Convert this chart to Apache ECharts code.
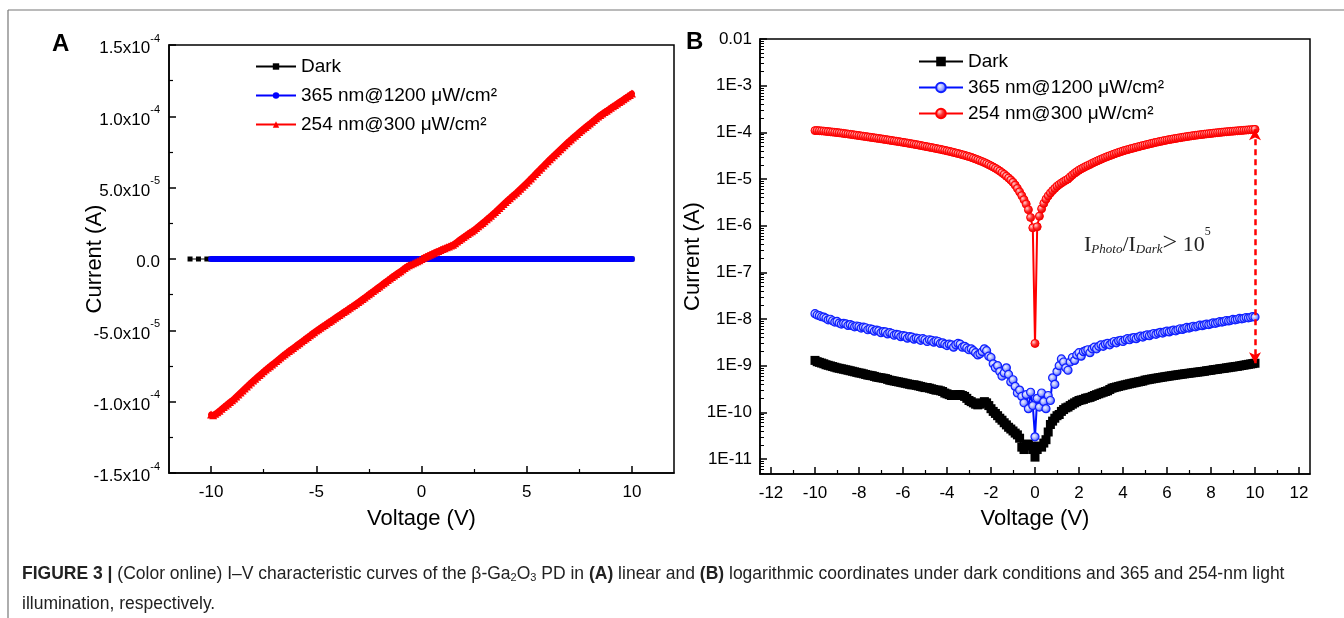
<!DOCTYPE html>
<html><head><meta charset="utf-8">
<script src="https://cdn.jsdelivr.net/npm/echarts@6/dist/echarts.min.js"></script>
<style>html,body{margin:0;padding:0;background:#fff}#c{width:1344px;height:618px}</style>
</head><body><div id="c"></div>
<script>
// ---------- data ----------
const V = [
-10,-9.9,-9.8,-9.7,-9.6,-9.5,-9.4,-9.3,-9.2,-9.1,
-9,-8.9,-8.8,-8.7,-8.6,-8.5,-8.4,-8.3,-8.2,-8.1,
-8,-7.9,-7.8,-7.7,-7.6,-7.5,-7.4,-7.3,-7.2,-7.1,
-7,-6.9,-6.8,-6.7,-6.6,-6.5,-6.4,-6.3,-6.2,-6.1,
-6,-5.9,-5.8,-5.7,-5.6,-5.5,-5.4,-5.3,-5.2,-5.1,
-5,-4.9,-4.8,-4.7,-4.6,-4.5,-4.4,-4.3,-4.2,-4.1,
-4,-3.9,-3.8,-3.7,-3.6,-3.5,-3.4,-3.3,-3.2,-3.1,
-3,-2.9,-2.8,-2.7,-2.6,-2.5,-2.4,-2.3,-2.2,-2.1,
-2,-1.9,-1.8,-1.7,-1.6,-1.5,-1.4,-1.3,-1.2,-1.1,
-1,-0.9,-0.8,-0.7,-0.6,-0.5,-0.4,-0.3,-0.2,-0.1,
0,
0.1,0.2,0.3,0.4,0.5,0.6,0.7,0.8,0.9,1,
1.1,1.2,1.3,1.4,1.5,1.6,1.7,1.8,1.9,2,
2.1,2.2,2.3,2.4,2.5,2.6,2.7,2.8,2.9,3,
3.1,3.2,3.3,3.4,3.5,3.6,3.7,3.8,3.9,4,
4.1,4.2,4.3,4.4,4.5,4.6,4.7,4.8,4.9,5,
5.1,5.2,5.3,5.4,5.5,5.6,5.7,5.8,5.9,6,
6.1,6.2,6.3,6.4,6.5,6.6,6.7,6.8,6.9,7,
7.1,7.2,7.3,7.4,7.5,7.6,7.7,7.8,7.9,8,
8.1,8.2,8.3,8.4,8.5,8.6,8.7,8.8,8.9,9,
9.1,9.2,9.3,9.4,9.5,9.6,9.7,9.8,9.9,10];

const photo254 = [
-1.090e-4,-1.095e-4,-1.085e-4,-1.075e-4,-1.063e-4,-1.050e-4,-1.038e-4,-1.026e-4,-1.014e-4,-1.002e-4,
-9.90e-5,-9.78e-5,-9.64e-5,-9.50e-5,-9.36e-5,-9.22e-5,-9.08e-5,-8.94e-5,-8.80e-5,-8.66e-5,
-8.52e-5,-8.39e-5,-8.26e-5,-8.13e-5,-8.00e-5,-7.87e-5,-7.75e-5,-7.63e-5,-7.51e-5,-7.39e-5,
-7.27e-5,-7.15e-5,-7.03e-5,-6.91e-5,-6.79e-5,-6.67e-5,-6.56e-5,-6.45e-5,-6.34e-5,-6.23e-5,
-6.12e-5,-6.01e-5,-5.90e-5,-5.79e-5,-5.68e-5,-5.57e-5,-5.46e-5,-5.35e-5,-5.24e-5,-5.13e-5,
-5.02e-5,-4.92e-5,-4.82e-5,-4.72e-5,-4.62e-5,-4.52e-5,-4.42e-5,-4.32e-5,-4.22e-5,-4.12e-5,
-4.02e-5,-3.92e-5,-3.82e-5,-3.72e-5,-3.62e-5,-3.52e-5,-3.42e-5,-3.32e-5,-3.22e-5,-3.12e-5,
-3.02e-5,-2.91e-5,-2.80e-5,-2.69e-5,-2.58e-5,-2.47e-5,-2.36e-5,-2.25e-5,-2.14e-5,-2.03e-5,
-1.92e-5,-1.81e-5,-1.70e-5,-1.59e-5,-1.48e-5,-1.37e-5,-1.26e-5,-1.15e-5,-1.05e-5,-9.50e-6,
-8.50e-6,-7.40e-6,-6.30e-6,-5.30e-6,-4.40e-6,-3.60e-6,-2.90e-6,-2.20e-6,-1.50e-6,-9.00e-7,
3.0e-9,
9.5e-7,1.6e-6,2.3e-6,3.0e-6,3.7e-6,4.35e-6,5.0e-6,5.65e-6,6.3e-6,7.0e-6,
7.6e-6,8.2e-6,8.8e-6,9.4e-6,1.00e-5,1.11e-5,1.22e-5,1.33e-5,1.44e-5,1.55e-5,
1.65e-5,1.75e-5,1.85e-5,1.95e-5,2.05e-5,2.17e-5,2.29e-5,2.41e-5,2.53e-5,2.65e-5,
2.78e-5,2.91e-5,3.04e-5,3.17e-5,3.30e-5,3.44e-5,3.58e-5,3.72e-5,3.86e-5,4.00e-5,
4.13e-5,4.26e-5,4.39e-5,4.52e-5,4.65e-5,4.79e-5,4.93e-5,5.07e-5,5.21e-5,5.35e-5,
5.50e-5,5.65e-5,5.80e-5,5.95e-5,6.10e-5,6.25e-5,6.40e-5,6.55e-5,6.70e-5,6.85e-5,
6.99e-5,7.13e-5,7.27e-5,7.41e-5,7.55e-5,7.69e-5,7.83e-5,7.97e-5,8.11e-5,8.25e-5,
8.38e-5,8.51e-5,8.64e-5,8.77e-5,8.90e-5,9.02e-5,9.14e-5,9.26e-5,9.38e-5,9.50e-5,
9.62e-5,9.74e-5,9.86e-5,9.98e-5,1.010e-4,1.020e-4,1.030e-4,1.040e-4,1.050e-4,1.060e-4,
1.070e-4,1.080e-4,1.090e-4,1.100e-4,1.110e-4,1.120e-4,1.130e-4,1.140e-4,1.150e-4,1.160e-4];

const photo365 = [
-1.30e-8,-1.22e-8,-1.18e-8,-1.12e-8,-1.10e-8,-1.04e-8,-9.6e-9,-9.9e-9,-9.2e-9,-8.6e-9,
-8.9e-9,-8.2e-9,-7.8e-9,-8.1e-9,-7.9e-9,-7.3e-9,-7.6e-9,-7.2e-9,-6.8e-9,-7.1e-9,
-6.9e-9,-6.4e-9,-6.7e-9,-6.5e-9,-5.9e-9,-6.2e-9,-6.0e-9,-5.5e-9,-5.8e-9,-5.6e-9,
-5.1e-9,-5.4e-9,-5.3e-9,-4.8e-9,-5.1e-9,-4.9e-9,-4.5e-9,-4.7e-9,-4.6e-9,-4.2e-9,
-4.4e-9,-4.3e-9,-3.9e-9,-4.2e-9,-4.1e-9,-3.7e-9,-3.9e-9,-3.8e-9,-3.5e-9,-3.8e-9,
-3.6e-9,-3.3e-9,-3.6e-9,-3.5e-9,-3.2e-9,-3.4e-9,-3.3e-9,-3.0e-9,-3.1e-9,-2.9e-9,
-2.7e-9,-2.9e-9,-2.8e-9,-2.5e-9,-2.8e-9,-3.0e-9,-2.9e-9,-2.5e-9,-2.6e-9,-2.4e-9,
-2.2e-9,-2.3e-9,-2.1e-9,-1.9e-9,-1.7e-9,-1.8e-9,-2.0e-9,-2.3e-9,-2.1e-9,-1.6e-9,
-1.5e-9,-1.1e-9,-9.0e-10,-1.0e-9,-7.5e-10,-6.0e-10,-7.0e-10,-9.0e-10,-6.5e-10,-4.5e-10,
-5.0e-10,-3.6e-10,-2.6e-10,-3.0e-10,-2.2e-10,-1.6e-10,-2.4e-10,-1.2e-10,-2.7e-10,-1.4e-10,
3.0e-11,
2.0e-10,1.3e-10,2.6e-10,1.7e-10,1.2e-10,2.3e-10,1.8e-10,5.5e-10,4.0e-10,7.5e-10,
1.0e-9,1.4e-9,1.2e-9,9.0e-10,8.0e-10,1.2e-9,1.5e-9,1.3e-9,1.7e-9,1.9e-9,
1.6e-9,2.0e-9,2.1e-9,2.2e-9,1.9e-9,2.3e-9,2.5e-9,2.3e-9,2.6e-9,2.8e-9,
2.6e-9,2.9e-9,3.0e-9,2.8e-9,3.1e-9,3.3e-9,3.1e-9,3.4e-9,3.5e-9,3.3e-9,
3.6e-9,3.8e-9,3.6e-9,3.9e-9,4.0e-9,3.8e-9,4.1e-9,4.3e-9,4.1e-9,4.4e-9,
4.6e-9,4.4e-9,4.7e-9,4.9e-9,4.7e-9,5.0e-9,5.2e-9,5.0e-9,5.3e-9,5.5e-9,
5.3e-9,5.6e-9,5.8e-9,5.6e-9,5.9e-9,6.2e-9,6.0e-9,6.3e-9,6.6e-9,6.4e-9,
6.7e-9,7.0e-9,6.8e-9,7.1e-9,7.4e-9,7.2e-9,7.5e-9,7.8e-9,7.6e-9,7.9e-9,
8.3e-9,8.1e-9,8.4e-9,8.8e-9,8.6e-9,8.9e-9,9.3e-9,9.1e-9,9.4e-9,9.8e-9,
9.6e-9,9.9e-9,1.03e-8,1.01e-8,1.04e-8,1.08e-8,1.06e-8,1.09e-8,1.13e-8,1.10e-8];

const dark = [
-1.30e-9,-1.22e-9,-1.18e-9,-1.14e-9,-1.10e-9,-1.05e-9,-1.02e-9,-9.9e-10,-9.6e-10,-9.3e-10,
-9.0e-10,-8.8e-10,-8.6e-10,-8.4e-10,-8.2e-10,-8.0e-10,-7.8e-10,-7.6e-10,-7.4e-10,-7.2e-10,
-7.0e-10,-6.9e-10,-6.7e-10,-6.5e-10,-6.3e-10,-6.2e-10,-6.1e-10,-5.9e-10,-5.7e-10,-5.6e-10,
-5.5e-10,-5.4e-10,-5.3e-10,-5.1e-10,-4.9e-10,-4.8e-10,-4.7e-10,-4.6e-10,-4.5e-10,-4.4e-10,
-4.3e-10,-4.2e-10,-4.1e-10,-4.0e-10,-3.9e-10,-3.9e-10,-3.8e-10,-3.7e-10,-3.6e-10,-3.5e-10,
-3.4e-10,-3.4e-10,-3.3e-10,-3.2e-10,-3.1e-10,-3.0e-10,-3.0e-10,-2.9e-10,-2.8e-10,-2.6e-10,
-2.5e-10,-2.4e-10,-2.3e-10,-2.3e-10,-2.4e-10,-2.4e-10,-2.4e-10,-2.3e-10,-2.2e-10,-2.0e-10,
-1.8e-10,-1.7e-10,-1.6e-10,-1.5e-10,-1.45e-10,-1.5e-10,-1.6e-10,-1.7e-10,-1.6e-10,-1.4e-10,
-1.2e-10,-1.05e-10,-9.5e-11,-8.5e-11,-7.5e-11,-6.8e-11,-6.0e-11,-5.4e-11,-4.8e-11,-4.4e-11,
-4.0e-11,-3.6e-11,-3.3e-11,-2.8e-11,-1.8e-11,-1.6e-11,-2.0e-11,-2.1e-11,-1.9e-11,-1.6e-11,
1.1e-11,
1.6e-11,1.9e-11,1.8e-11,2.2e-11,2.6e-11,3.8e-11,5.5e-11,6.5e-11,7.5e-11,8.5e-11,
9.0e-11,1.05e-10,1.15e-10,1.25e-10,1.3e-10,1.4e-10,1.5e-10,1.6e-10,1.7e-10,1.8e-10,
1.85e-10,1.9e-10,2.0e-10,2.05e-10,2.1e-10,2.2e-10,2.3e-10,2.4e-10,2.5e-10,2.6e-10,
2.7e-10,2.8e-10,2.9e-10,3.1e-10,3.3e-10,3.4e-10,3.5e-10,3.6e-10,3.7e-10,3.8e-10,
3.9e-10,4.0e-10,4.1e-10,4.2e-10,4.3e-10,4.4e-10,4.5e-10,4.6e-10,4.7e-10,4.9e-10,
5.0e-10,5.1e-10,5.2e-10,5.3e-10,5.4e-10,5.5e-10,5.6e-10,5.7e-10,5.8e-10,5.9e-10,
6.0e-10,6.1e-10,6.2e-10,6.3e-10,6.4e-10,6.5e-10,6.6e-10,6.7e-10,6.8e-10,6.9e-10,
7.0e-10,7.1e-10,7.2e-10,7.3e-10,7.4e-10,7.5e-10,7.6e-10,7.8e-10,7.9e-10,8.0e-10,
8.2e-10,8.3e-10,8.4e-10,8.6e-10,8.7e-10,8.8e-10,9.0e-10,9.1e-10,9.3e-10,9.4e-10,
9.6e-10,9.7e-10,9.9e-10,1.01e-9,1.03e-9,1.05e-9,1.07e-9,1.09e-9,1.11e-9,1.13e-9];

// dark sweep in panel A starts a little before -10 V
const darkLeadV = [-11.0, -10.6, -10.2];
const darkLeadI = [-1.45e-9, -1.40e-9, -1.35e-9];

const seriesNames = ['Dark', '365 nm@1200 μW/cm²', '254 nm@300 μW/cm²'];

const xTicksA = [-10, -5, 0, 5, 10];
const xMinorA = [-7.5, -2.5, 2.5, 7.5];
const yTicksA = [1.5e-4, 1e-4, 5e-5, 0, -5e-5, -1e-4, -1.5e-4];
const yLabelsA = ['1.5x10^-4', '1.0x10^-4', '5.0x10^-5', '0.0', '-5.0x10^-5', '-1.0x10^-4', '-1.5x10^-4'];

const xTicksB = [-12, -10, -8, -6, -4, -2, 0, 2, 4, 6, 8, 10, 12];
const xMinorB = [-11, -9, -7, -5, -3, -1, 1, 3, 5, 7, 9, 11];
const yTicksB = [1e-2, 1e-3, 1e-4, 1e-5, 1e-6, 1e-7, 1e-8, 1e-9, 1e-10, 1e-11];
const yLabelsB = ['0.01', '1E-3', '1E-4', '1E-5', '1E-6', '1E-7', '1E-8', '1E-9', '1E-10', '1E-11'];
const minorMult = [2, 3, 4, 5, 6, 7, 8, 9];

// ---------- build ----------
const FONT = 'Liberation Sans, Arial, sans-serif';
const SERIF = 'Liberation Serif, serif';
const zip = (xs, ys) => xs.map((x, i) => [x, ys[i]]);
const zipAbs = (xs, ys) => xs.map((x, i) => [x, Math.abs(ys[i])]);
const yMinorB = [];
yTicksB.forEach(t => minorMult.forEach(m => { const v = t * m / 10; if (v < 1e-2) yMinorB.push(v); }));
yMinorB.push(6e-12, 7e-12, 8e-12, 9e-12);

const chart = echarts.init(document.getElementById('c'), null, { renderer: 'canvas' });

function labelA(v) {
  const i = yTicksA.findIndex(t => Math.abs(t - v) < 1e-9);
  if (i < 0) return '';
  const parts = yLabelsA[i].split('^');
  return parts.length > 1 ? '{m|' + parts[0] + '}{e|' + parts[1] + '}' : '{m|' + parts[0] + '}';
}
function labelB(v) {
  const i = yTicksB.findIndex(t => Math.abs(Math.log10(t) - Math.log10(v)) < 0.01);
  return i < 0 ? '' : yLabelsB[i];
}

const axisLineStyle = { onZero: false, lineStyle: { color: '#000', width: 1.5 } };
const tickLabel = { color: '#000', fontSize: 17, fontFamily: FONT };
const nameStyle = { color: '#000', fontSize: 22, fontFamily: FONT };

const redBall = new echarts.graphic.RadialGradient(0.35, 0.35, 0.65, [
  { offset: 0, color: '#ffd0d0' }, { offset: 0.5, color: '#ff3030' }, { offset: 1, color: '#e00000' }]);
const blueBall = new echarts.graphic.RadialGradient(0.4, 0.4, 0.6, [
  { offset: 0, color: '#f0f2ff' }, { offset: 0.55, color: '#9aa6ff' }, { offset: 1, color: '#1a2cff' }]);

const option = {
  animation: false,
  backgroundColor: '#fff',
  grid: [
    { left: 169, top: 45, width: 505, height: 428, show: true, borderColor: '#000', borderWidth: 1.5, backgroundColor: 'transparent' },
    { left: 760, top: 39, width: 550, height: 435, show: true, borderColor: '#000', borderWidth: 1.5, backgroundColor: 'transparent' }
  ],
  xAxis: [
    { gridIndex: 0, type: 'value', min: -12, max: 12, position: 'bottom',
      axisLine: axisLineStyle, splitLine: { show: false },
      axisTick: { inside: true, length: 7, lineStyle: { color: '#000', width: 1.5 }, customValues: xTicksA },
      axisLabel: Object.assign({ margin: 11, customValues: xTicksA }, tickLabel),
      name: 'Voltage (V)', nameLocation: 'middle', nameGap: 35, nameMoveOverlap: false, nameTextStyle: nameStyle },
    { gridIndex: 0, type: 'value', min: -12, max: 12, position: 'bottom',
      axisLine: { show: false, onZero: false }, splitLine: { show: false },
      axisTick: { inside: true, length: 4, lineStyle: { color: '#000', width: 1.2 }, customValues: xMinorA },
      axisLabel: { show: false } },
    { gridIndex: 1, type: 'value', min: -12.5, max: 12.5, position: 'bottom',
      axisLine: axisLineStyle, splitLine: { show: false },
      axisTick: { inside: true, length: 7, lineStyle: { color: '#000', width: 1.5 }, customValues: xTicksB },
      axisLabel: Object.assign({ margin: 11, customValues: xTicksB }, tickLabel),
      name: 'Voltage (V)', nameLocation: 'middle', nameGap: 34, nameMoveOverlap: false, nameTextStyle: nameStyle },
    { gridIndex: 1, type: 'value', min: -12.5, max: 12.5, position: 'bottom',
      axisLine: { show: false, onZero: false }, splitLine: { show: false },
      axisTick: { inside: true, length: 4, lineStyle: { color: '#000', width: 1.2 }, customValues: xMinorB },
      axisLabel: { show: false } }
  ],
  yAxis: [
    { gridIndex: 0, type: 'value', min: -1.5e-4, max: 1.5e-4, interval: 5e-5, position: 'left',
      axisLine: axisLineStyle, splitLine: { show: false },
      axisTick: { inside: true, length: 7, lineStyle: { color: '#000', width: 1.5 } },
      minorTick: { show: true, splitNumber: 2, length: 4, lineStyle: { color: '#000', width: 1.2 } },
      axisLabel: { margin: 9, color: '#000', fontFamily: FONT, formatter: labelA,
        rich: { m: { fontSize: 17, fontFamily: FONT, color: '#000', lineHeight: 24, verticalAlign: 'bottom' },
                e: { fontSize: 11, fontFamily: FONT, color: '#000', lineHeight: 14, verticalAlign: 'top' } } },
      name: 'Current (A)', nameLocation: 'middle', nameGap: 63, nameMoveOverlap: false, nameTextStyle: nameStyle },
    { gridIndex: 1, type: 'log', logBase: 10, min: Math.pow(10, -11.32), max: 1e-2, position: 'left',
      axisLine: axisLineStyle, splitLine: { show: false },
      axisTick: { inside: true, length: 7, lineStyle: { color: '#000', width: 1.5 }, customValues: yTicksB },
      axisLabel: Object.assign({ margin: 8, customValues: yTicksB, formatter: labelB }, tickLabel),
      name: 'Current (A)', nameLocation: 'middle', nameGap: 56, nameMoveOverlap: false, nameTextStyle: nameStyle },
    { gridIndex: 1, type: 'log', logBase: 10, min: Math.pow(10, -11.32), max: 1e-2, position: 'left',
      axisLine: { show: false, onZero: false }, splitLine: { show: false },
      axisTick: { inside: true, length: 4, lineStyle: { color: '#000', width: 1 }, customValues: yMinorB },
      axisLabel: { show: false } }
  ],
  legend: [
    { left: 250, top: 52, orient: 'vertical', itemWidth: 40, itemHeight: 8, itemGap: 10,
      data: seriesNames.map(n => 'A:' + n), formatter: n => n.slice(2),
      textStyle: { fontSize: 19, fontFamily: FONT, color: '#000' } },
    { left: 913, top: 47, orient: 'vertical', itemWidth: 44, itemHeight: 12, itemGap: 7,
      data: seriesNames.map(n => 'B:' + n), formatter: n => n.slice(2),
      textStyle: { fontSize: 19, fontFamily: FONT, color: '#000' } }
  ],
  series: [
    { name: 'A:' + seriesNames[0], type: 'line', xAxisIndex: 0, yAxisIndex: 0,
      data: zip(darkLeadV.concat(V), darkLeadI.concat(dark)),
      symbol: 'rect', symbolSize: 5, itemStyle: { color: '#000' }, lineStyle: { color: '#000', width: 1 } },
    { name: 'A:' + seriesNames[1], type: 'line', xAxisIndex: 0, yAxisIndex: 0, data: zip(V, photo365),
      symbol: 'circle', symbolSize: 6, itemStyle: { color: '#0000ff' }, lineStyle: { color: '#0000ff', width: 1 } },
    { name: 'A:' + seriesNames[2], type: 'line', xAxisIndex: 0, yAxisIndex: 0, data: zip(V, photo254),
      symbol: 'triangle', symbolSize: 8, itemStyle: { color: '#ff0000' }, lineStyle: { color: '#ff0000', width: 1 } },
    // thick band under the triangles of panel A (same data)
    { name: 'A:' + seriesNames[2], type: 'line', xAxisIndex: 0, yAxisIndex: 0, data: zip(V, photo254),
      symbol: 'none', lineStyle: { color: '#ff0000', width: 6, cap: 'round', join: 'round' }, z: 1 },

    { name: 'B:' + seriesNames[0], type: 'line', xAxisIndex: 2, yAxisIndex: 1, data: zipAbs(V, dark),
      symbol: 'rect', symbolSize: 9, itemStyle: { color: '#000' }, lineStyle: { color: '#000', width: 2 } },
    { name: 'B:' + seriesNames[1], type: 'line', xAxisIndex: 2, yAxisIndex: 1, data: zipAbs(V, photo365),
      symbol: 'circle', symbolSize: 8, itemStyle: { color: blueBall, borderColor: '#1020ff', borderWidth: 1.2 },
      lineStyle: { color: '#0010ff', width: 2 } },
    { name: 'B:' + seriesNames[2], type: 'line', xAxisIndex: 2, yAxisIndex: 1, data: zipAbs(V, photo254),
      symbol: 'circle', symbolSize: 8, itemStyle: { color: redBall, borderColor: '#ff0000', borderWidth: 1 },
      lineStyle: { color: '#ff0000', width: 2 },
      markLine: { silent: true, symbol: ['arrow', 'arrow'], symbolSize: [9, 11],
        lineStyle: { color: '#ff0000', width: 2.5, type: [6, 4] }, label: { show: false },
        data: [[ { coord: [V[V.length - 1], Math.abs(photo254[photo254.length - 1])] },
                 { coord: [V[V.length - 1], Math.abs(dark[dark.length - 1])] } ]] } }
  ],
  graphic: [
    { type: 'line', shape: { x1: 8, y1: 10, x2: 1344, y2: 10 }, style: { stroke: '#777', lineWidth: 1.2 }, silent: true },
    { type: 'line', shape: { x1: 8, y1: 10, x2: 8, y2: 618 }, style: { stroke: '#777', lineWidth: 1.2 }, silent: true },
    { type: 'text', left: 52, top: 32, style: { text: 'A', font: 'bold 24px ' + FONT, fill: '#000' } },
    { type: 'text', left: 686, top: 30, style: { text: 'B', font: 'bold 24px ' + FONT, fill: '#000' } },
    { type: 'text', left: 1084, top: 226, style: {
        text: '{i|I}{s|Photo}{i|/I}{s|Dark}{g|>}{i| 10}{p|5}',
        rich: {
          i: { fontFamily: SERIF, fontSize: 22, fill: '#222', lineHeight: 28, verticalAlign: 'bottom' },
          g: { fontFamily: SERIF, fontSize: 26, fill: '#222', lineHeight: 30, verticalAlign: 'bottom' },
          s: { fontFamily: SERIF, fontSize: 13, fontStyle: 'italic', fill: '#222', lineHeight: 13, verticalAlign: 'bottom' },
          p: { fontFamily: SERIF, fontSize: 12, fill: '#222', lineHeight: 15, verticalAlign: 'top' }
        } } },
    { type: 'text', left: 22, top: 565, style: {
        text: '{b|FIGURE 3 |}{n| (Color online) I–V characteristic curves of the β-Ga}{sub|2}{n|O}{sub|3}{n| PD in }{b|(A)}{n| linear and }{b|(B)}{n| logarithmic coordinates under dark conditions and 365 and 254-nm light}',
        rich: {
          n: { fontFamily: FONT, fontSize: 17.5, fill: '#222', lineHeight: 22, verticalAlign: 'bottom' },
          b: { fontFamily: FONT, fontSize: 17.5, fontWeight: 'bold', fill: '#222', lineHeight: 22, verticalAlign: 'bottom' },
          sub: { fontFamily: FONT, fontSize: 11, fill: '#222', lineHeight: 13, verticalAlign: 'bottom' }
        } } },
    { type: 'text', left: 22, top: 595, style: { text: 'illumination, respectively.', font: '17.5px ' + FONT, fill: '#222' } }
  ]
};
chart.setOption(option);
</script></body></html>
